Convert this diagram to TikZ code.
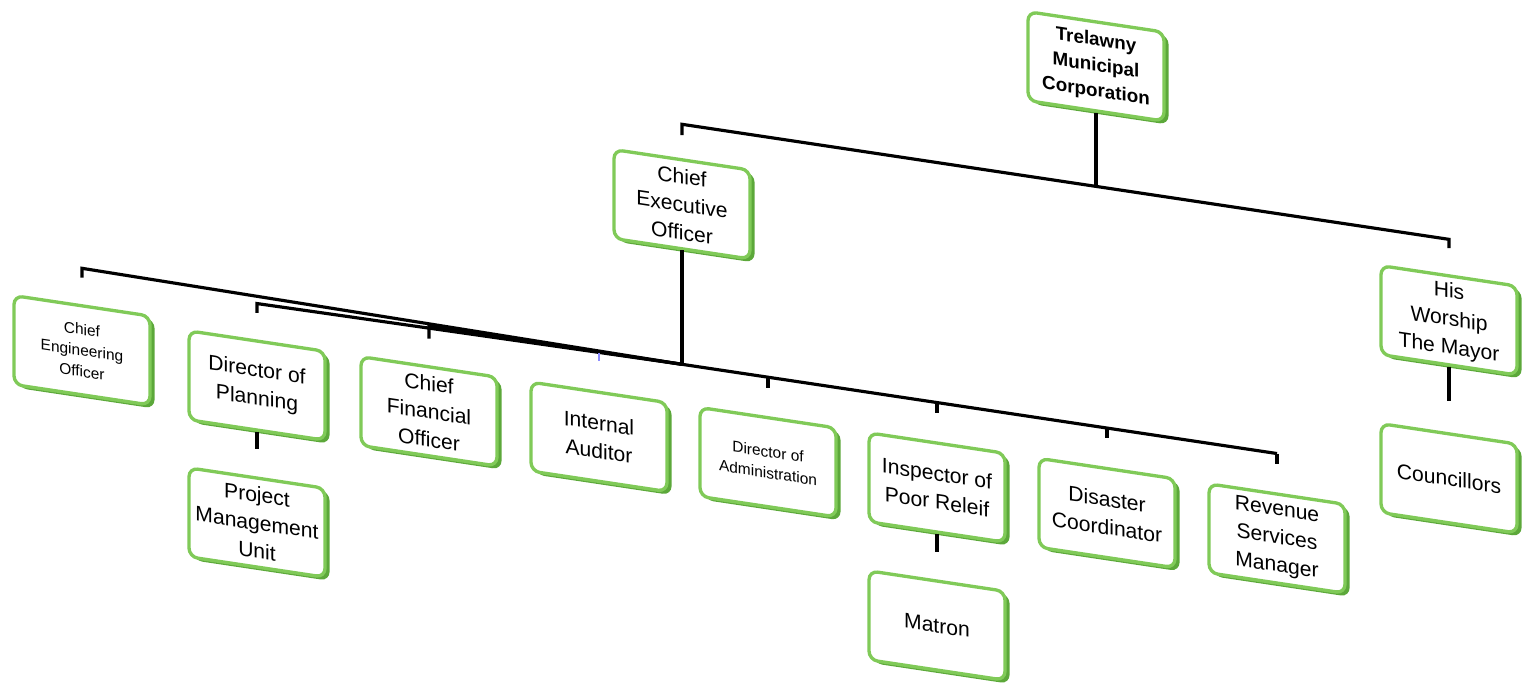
\documentclass[tikz,border=0pt]{standalone}
\usepackage{fontspec}
\setmainfont{Liberation Sans}
\usetikzlibrary{positioning,shadows}
\definecolor{boxgreen}{RGB}{128,202,88}
\definecolor{boxside}{RGB}{92,168,58}

\begin{document}
\begin{tikzpicture}[x=0.02cm,y=-0.02cm,
  post/.style={draw=boxgreen,line width=1.9pt,rounded corners=5pt,fill=white,
    minimum width=2.72cm,minimum height=1.78cm,align=center,inner sep=1pt,
    font=\fontsize{12}{16}\selectfont,
    drop shadow={shadow xshift=2.6pt,shadow yshift=-2pt,fill=boxside,opacity=1}},
  small/.style={font=\fontsize{8.8}{12}\selectfont},
  link/.style={line width=1.8pt}]
  \useasboundingbox (0,0) rectangle (1524,683);
  \begin{scope}[yslant=-0.15,transform shape]
  \node[post,font=\bfseries\fontsize{10.7}{14.5}\selectfont] (top) at (1096,-98) {Trelawny\\Municipal\\Corporation};
  \node[post] (ceo) at (682,102) {Chief\\Executive\\Officer};
  \node[post] (mayor) at (1449,103) {His\\Worship\\The Mayor};
  \node[post] (coun) at (1449,261) {Councillors};
  \node[post,small] (ceng) at (82,338) {Chief\\Engineering\\Officer};
  \foreach \n/\x/\t in {plan/257/{Director of\\Planning},cfo/429/{Chief\\Financial\\Officer},
      aud/599/{Internal\\Auditor},insp/937/{Inspector of\\Poor Releif},
      dis/1107/{Disaster\\Coordinator},rev/1277/{Revenue\\Services\\Manager}}{
    \node[post] (\n) at (\x,347) {\t};
  }
  \node[post,small] (adm) at (768,347) {Director of\\Administration};
  \node[post] (pmu) at (257,484) {Project\\Management\\Unit};
  \node[post] (mat) at (937,485) {Matron};
  \coordinate (t1) at (682,22);
  \coordinate (t2) at (1449,22);
  \coordinate (j0) at (1096,22);
  \coordinate (h) at (682,262);
  \draw[link] (top.south) -- (j0);
  \draw[link,shorten <=0.46cm,shorten >=0.52cm] (ceo.north) -- (t1) -- (t2) -- (mayor.north);
  \draw[link] (ceo.south) -- (h);
  \foreach \n/\x/\u in {ceng/82/256,plan/257/265,cfo/429/262}
    \draw[link,shorten >=0.53cm] (h) -- (\x,\u) -- (\n.north);
  \draw[blue!45,line width=0.6pt,shorten >=0.6cm] (599,263) -- (aud.north);
  \draw[link] (h) -- (1277,262);
  \foreach \n/\x in {adm/768,insp/937,dis/1107,rev/1277}
    \draw[link,shorten >=0.57cm] (\x,262) -- (\n.north);
  \draw[link,shorten >=0.55cm] (plan.south) -- (pmu.north);
  \draw[link,shorten >=0.55cm] (insp.south) -- (mat.north);
  \draw[link,shorten >=0.63cm] (mayor.south) -- (coun.north);
  \end{scope}
\end{tikzpicture}
\end{document}
